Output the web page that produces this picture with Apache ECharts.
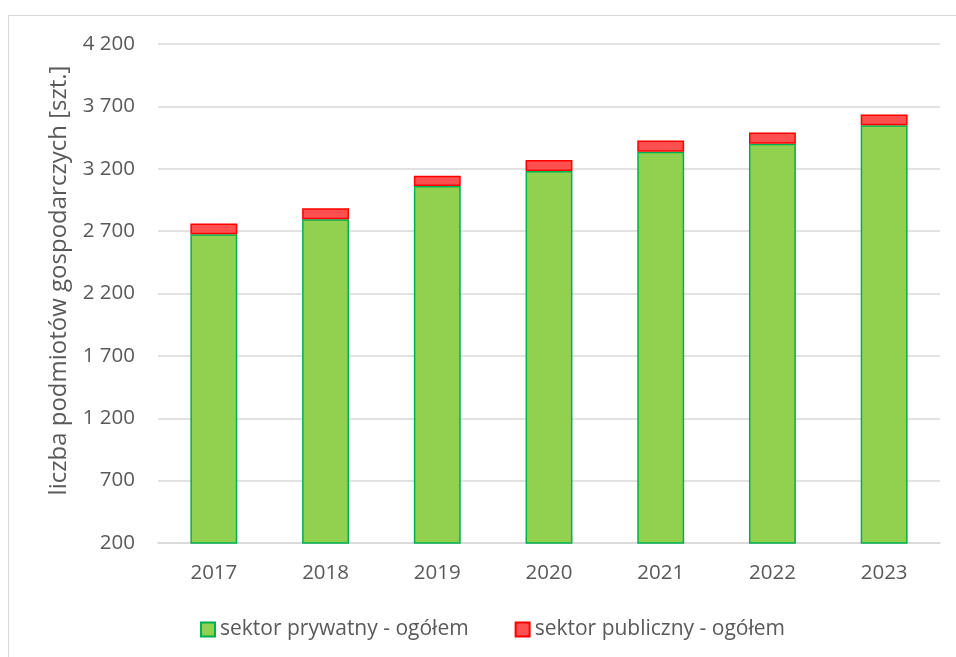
<!DOCTYPE html>
<html><head><meta charset="utf-8">
<script src="https://cdn.jsdelivr.net/npm/echarts@6/dist/echarts.min.js"></script>
<style>
html,body{margin:0;padding:0;background:#fff;}
#frame{position:absolute;left:8px;top:15px;width:1000px;height:700px;border:1.5px solid #D9D9D9;box-sizing:border-box;}
#chart{position:absolute;left:0;top:0;width:956px;height:657px;}
</style></head>
<body>
<div id="frame"></div>
<div id="chart"></div>
<script>
const years = ['2017','2018','2019','2020','2021','2022','2023'];
const privateSector = [2675, 2795, 3062, 3182, 3337, 3401, 3548];
const publicSector = [87, 89, 82, 88, 90, 90, 87];
const seriesNames = ['sektor prywatny - ogółem', 'sektor publiczny - ogółem'];
const yAxisName = 'liczba podmiotów gospodarczych [szt.]';

const font = '"Open Sans", sans-serif';
const chart = echarts.init(document.getElementById('chart'));
chart.setOption({
  animation: false,
  grid: {left: 158, right: 16, top: 44, bottom: 114, containLabel: false},
  legend: {
    left: 200, top: 619, padding: 0, itemWidth: 14, itemHeight: 14, itemGap: 46, icon: 'rect',
    textStyle: {fontFamily: font, fontSize: 21, color: '#595959'},
    data: seriesNames
  },
  xAxis: {
    type: 'category', data: years,
    axisLine: {show: true, lineStyle: {color: '#D9D9D9', width: 1.5}},
    axisTick: {show: false},
    axisLabel: {fontFamily: font, fontSize: 20.5, color: '#595959', margin: 20}
  },
  yAxis: {
    type: 'value', min: 200, max: 4200, interval: 500,
    name: yAxisName, nameLocation: 'middle', nameGap: 87, nameRotate: 90,
    nameTextStyle: {fontFamily: font, fontSize: 24, color: '#595959', padding: [0, 0, 0, 26]},
    axisLine: {show: false}, axisTick: {show: false},
    splitLine: {lineStyle: {color: '#D9D9D9', width: 1.5}},
    axisLabel: {fontFamily: font, fontSize: 20.5, color: '#595959', margin: 23,
      formatter: v => String(v).replace(/\B(?=(\d{3})+(?!\d))/g, ' ')}
  },
  series: [
    {name: seriesNames[0], type: 'bar', stack: 's', data: privateSector, barWidth: '42%',
     itemStyle: {color: '#92D050', borderColor: '#00B050', borderWidth: 1.5}},
    {name: seriesNames[1], type: 'bar', stack: 's', data: publicSector, barWidth: '42%',
     itemStyle: {color: '#FF5050', borderColor: '#FF0000', borderWidth: 1.5}}
  ]
});
</script>
</body></html>
